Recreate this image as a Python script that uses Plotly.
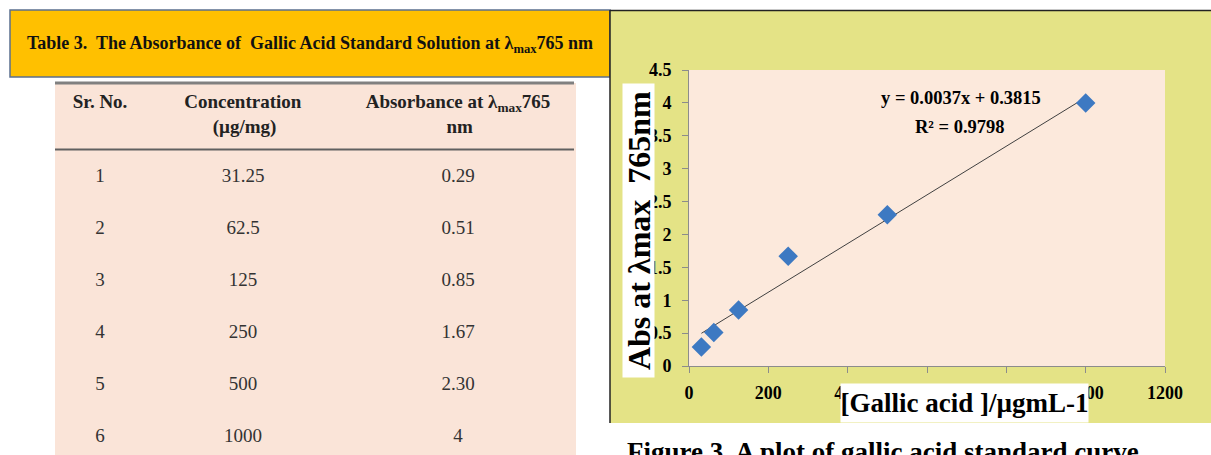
import plotly.graph_objects as go

# ---------------- data ----------------
sr_no = ["1", "2", "3", "4", "5", "6"]
concentration = [31.25, 62.5, 125, 250, 500, 1000]
conc_labels = ["31.25", "62.5", "125", "250", "500", "1000"]
absorbance = [0.29, 0.51, 0.85, 1.67, 2.30, 4.0]
abs_labels = ["0.29", "0.51", "0.85", "1.67", "2.30", "4"]
NB = "\u00a0"
table_headers = ["<br><b>Sr. No.</b>",
                 "<b>Concentration</b><br><b>" + NB * 6 + "(µg/mg)</b>",
                 "<b>Absorbance at λ<sub>max</sub>765</b><br><b>" + NB * 17 + "nm</b>"]
slope = 0.0037
intercept = 0.3815
r_squared = 0.9798
x_ticks = [0, 200, 400, 600, 800, 1000, 1200]
y_ticks = [0, 0.5, 1, 1.5, 2, 2.5, 3, 3.5, 4, 4.5]

# ---------------- layout helpers ----------------
W, H = 1211, 455
def px(x):
    return x / W
def py(y):
    return 1 - y / H

SERIF = "Liberation Serif, Times New Roman, serif"
TABLE_BG = "#FAE4D8"
PLOT_BG = "#FCE9DC"
CHART_BG = "#E4E386"

fig = go.Figure()

fig.add_trace(go.Table(
    domain=dict(x=[px(55), px(575)], y=[0, py(83)]),
    columnwidth=[90, 196, 234],
    header=dict(values=table_headers, fill_color=TABLE_BG, line_color=TABLE_BG,
                align="center", height=77,
                font=dict(family=SERIF, size=19, color="#222222")),
    cells=dict(values=[sr_no, conc_labels, abs_labels], fill_color=TABLE_BG,
               line_color=TABLE_BG, align="center", height=52,
               font=dict(family=SERIF, size=19, color="#333333")),
))

x_fit = [min(concentration), max(concentration)]
y_fit = [slope * v + intercept for v in x_fit]
fig.add_trace(go.Scatter(x=x_fit, y=y_fit, mode="lines",
                         line=dict(color="#404040", width=1), hoverinfo="skip"))
fig.add_trace(go.Scatter(x=concentration, y=absorbance, mode="markers",
                         marker=dict(symbol="diamond", size=15, color="#3D79C2",
                                     line=dict(width=0))))

axis_common = dict(showgrid=False, zeroline=False, showline=True, linecolor="#8C8C8C",
                   linewidth=1, ticks="outside", ticklen=6, tickcolor="#8C8C8C",
                   automargin=False,
                   tickfont=dict(family=SERIF, size=18, color="black", weight="bold"))

fig.update_layout(
    width=W, height=H,
    margin=dict(l=0, r=0, t=0, b=0, pad=0, autoexpand=False),
    paper_bgcolor="white",
    plot_bgcolor="rgba(0,0,0,0)",
    showlegend=False,
    xaxis=dict(domain=[px(689), px(1165)], range=[0, 1200], tickvals=x_ticks,
               anchor="y", ticklabelstandoff=4, **axis_common),
    yaxis=dict(domain=[py(366), py(70)], range=[0, 4.5], tickvals=y_ticks,
               anchor="x", ticklabelstandoff=7, **axis_common),
    shapes=[
        dict(type="rect", xref="paper", yref="paper", x0=px(10), x1=px(610),
             y0=py(77), y1=py(10), fillcolor="#FFC000",
             line=dict(color="#5B6F8E", width=1.5), layer="below"),
        dict(type="rect", xref="paper", yref="paper", x0=px(55), x1=px(574),
             y0=0, y1=py(83), fillcolor=TABLE_BG, line=dict(width=0), layer="below"),
        dict(type="rect", xref="paper", yref="paper", x0=px(610), x1=1,
             y0=py(423), y1=py(10), fillcolor=CHART_BG, line=dict(width=0), layer="below"),
        dict(type="line", xref="paper", yref="paper", x0=px(610), x1=1,
             y0=py(10.5), y1=py(10.5), line=dict(color="#222222", width=1.5)),
        dict(type="line", xref="paper", yref="paper", x0=px(610), x1=px(610),
             y0=py(423), y1=py(10), line=dict(color="#222222", width=1.5)),
        dict(type="rect", xref="x domain", yref="y domain", x0=0, x1=1, y0=0, y1=1,
             fillcolor=PLOT_BG, line=dict(width=0), layer="below"),
        dict(type="line", xref="paper", yref="paper", x0=px(55), x1=px(574),
             y0=py(83), y1=py(83), line=dict(color="#808080", width=3)),
        dict(type="line", xref="paper", yref="paper", x0=px(55), x1=px(574),
             y0=py(149.5), y1=py(149.5), line=dict(color="#606060", width=2)),
    ],
    annotations=[
        dict(xref="paper", yref="paper", x=px(310), y=py(45), xanchor="center", yanchor="middle",
             showarrow=False,
             text="<b>Table 3.  The Absorbance of  Gallic Acid Standard Solution at λ<sub>max</sub>765 nm</b>",
             font=dict(family=SERIF, size=18, color="#111111")),
        dict(xref="paper", yref="paper", x=px(961), y=py(98), xanchor="center", yanchor="middle",
             showarrow=False, text=f"<b>y = {slope}x + {intercept}</b>",
             font=dict(family=SERIF, size=18.5, color="black")),
        dict(xref="paper", yref="paper", x=px(960), y=py(127), xanchor="center", yanchor="middle",
             showarrow=False, text=f"<b>R² = {r_squared}</b>",
             font=dict(family=SERIF, size=18.5, color="black")),
        dict(xref="paper", yref="paper", x=px(638.5), y=py(230.5), xanchor="center", yanchor="middle",
             showarrow=False, textangle=-90, bgcolor="white", borderpad=0,
             width=293, height=31,
             text="<b>Abs at λmax  765nm</b>",
             font=dict(family=SERIF, size=32, color="black")),
        dict(xref="paper", yref="paper", x=px(964.5), y=py(403), xanchor="center", yanchor="middle",
             showarrow=False, bgcolor="white", borderpad=0, width=247, height=38,
             text="<b>[Gallic acid ]/µgmL-1</b>",
             font=dict(family=SERIF, size=27, color="black")),
        dict(xref="paper", yref="paper", x=px(625), y=py(435), xanchor="left", yanchor="top",
             showarrow=False, text="<b>Figure 3. A plot of gallic acid standard curve</b>",
             font=dict(family=SERIF, size=27, color="black")),
    ],
)

fig.write_html(
    "out.html",
    config={"displayModeBar": False},
    post_script="document.body.style.margin='0';"
                "document.documentElement.style.overflow='hidden';",
)
